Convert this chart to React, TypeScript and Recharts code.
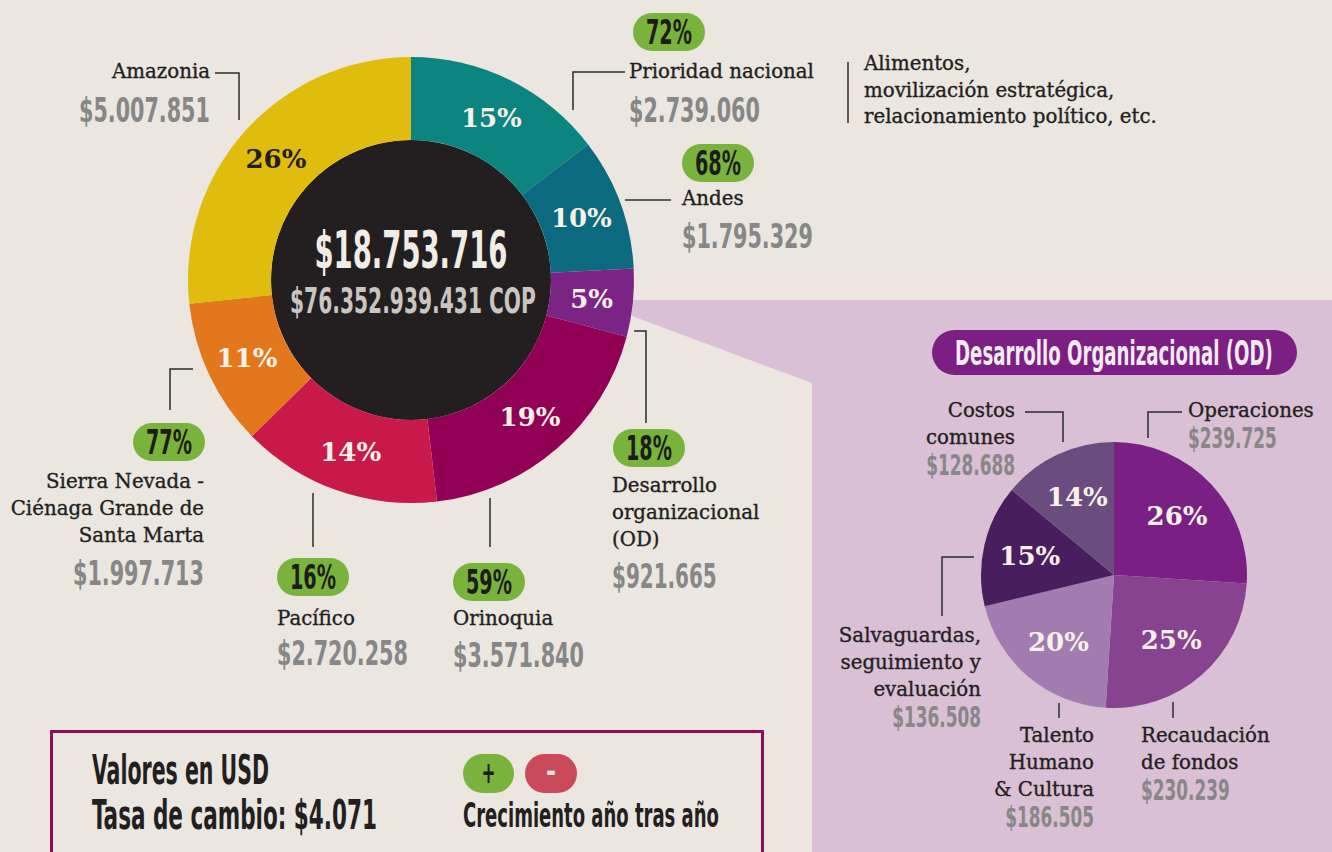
// App.tsx — budget donut by region + OD breakdown pie (Recharts)
import React from "react";
import { PieChart, Pie, Cell } from "recharts";

const regionNames = ["Prioridad nacional", "Andes", "Desarrollo organizacional (OD)", "Orinoquia", "Pacífico", "Sierra Nevada - Ciénaga Grande de Santa Marta", "Amazonia"];
const regionLines = [["Prioridad nacional"], ["Andes"], ["Desarrollo", "organizacional", "(OD)"], ["Orinoquia"], ["Pacífico"], ["Sierra Nevada -", "Ciénaga Grande de", "Santa Marta"], ["Amazonia"]];
const regionValues = [2739060, 1795329, 921665, 3571840, 2720258, 1997713, 5007851];
const regionShares = ["15%", "10%", "5%", "19%", "14%", "11%", "26%"];
const regionGrowth = ["72%", "68%", "18%", "59%", "16%", "77%", ""];

const odNames = ["Operaciones", "Recaudación de fondos", "Talento Humano & Cultura", "Salvaguardas, seguimiento y evaluación", "Costos comunes"];
const odLines = [["Operaciones"], ["Recaudación", "de fondos"], ["Talento", "Humano", "& Cultura"], ["Salvaguardas,", "seguimiento y", "evaluación"], ["Costos", "comunes"]];
const odValues = [239725, 230239, 186505, 136508, 128688];
const odShares = ["26%", "25%", "20%", "15%", "14%"];

const totalCop = "$76.352.939.431 COP";
const exchangeRate = "$4.071";
const nationalNote = ["Alimentos,", "movilización estratégica,", "relacionamiento político, etc."];

// styles
const BG = "#ebe6df";
const OD_BG = "#d9c0d5";
const regionColors = ["#0c8580", "#0b6a7f", "#7b2485", "#920056", "#c8194a", "#e2771b", "#e0bd0d"];
const odColors = ["#7a1f84", "#874290", "#a27cb0", "#4a1d5e", "#6a4c7e"];
const SERIF = "'DejaVu Serif', 'Liberation Serif', serif";
const COND = "'DejaVu Sans Condensed', 'Liberation Sans Narrow', 'DejaVu Sans', sans-serif";
const GREEN = "#7ab33b";
const GREY = "#878787";
const INK = "#231f20";
const RAD = Math.PI / 180;

// label placement around the charts
const regionLayout = [
    { anchor: "start", x: 629, y: 78, valueY: 122, pill: [633, 13], leader: "625,72 573,72 573,110" },
    { anchor: "start", x: 682, y: 205, valueY: 248, pill: [682, 144], leader: "625,200 671,200" },
    { anchor: "start", x: 612, y: 492, valueY: 588, pill: [613, 429], leader: "634,331 646,331 646,423" },
    { anchor: "start", x: 453, y: 625, valueY: 667, pill: [453, 563], leader: "490,498 490,547" },
    { anchor: "start", x: 277, y: 625, valueY: 665, pill: [277, 558], leader: "313,493 313,547" },
    { anchor: "end", x: 204, y: 488, valueY: 585, pill: [133, 423], leader: "193,369 170,369 170,410" },
    { anchor: "end", x: 210, y: 78, valueY: 122, pill: null, leader: "215,73 239,73 239,120" },
];
const odLayout = [
    { anchor: "start", x: 1188, y: 417, valueY: 448, leader: "1148,438 1148,412 1182,412" },
    { anchor: "start", x: 1141, y: 742, valueY: 800, leader: "1173,702 1173,718" },
    { anchor: "end", x: 1094, y: 742, valueY: 827, leader: "1059,703 1059,718" },
    { anchor: "end", x: 981, y: 642, valueY: 727, leader: "974,557 942,557 942,616" },
    { anchor: "end", x: 1015, y: 417, valueY: 475, leader: "1025,412 1063,412 1063,442" },
];

const fmt = (v: number) => "$" + String(v).replace(/\B(?=(\d{3})+(?!\d))/g, ".");
const total = regionValues.reduce((a, b) => a + b, 0);
const regionData = regionNames.map((name, i) => ({ name, value: regionValues[i] }));
const odData = odNames.map((name, i) => ({ name, value: odValues[i] }));
const totalData = [{ name: "Total", value: total }];

// condensed display face: squeeze a normal sans to the width seen in the print
let ctx: CanvasRenderingContext2D | null = null;
function measure(text: string, size: number) {
    if (!ctx) ctx = document.createElement("canvas").getContext("2d");
    if (!ctx) return text.length * size * 0.6;
    ctx.font = `bold ${size}px ${COND}`;
    return ctx.measureText(text).width || text.length * size * 0.6;
}

function Cond({ x, y, size, width, anchor = "start", fill = INK, children }: any) {
    const k = width / measure(children, size);
    const left = anchor === "middle" ? x - width / 2 : anchor === "end" ? x - width : x;
    return (
        <text transform={`translate(${left} ${y}) scale(${k} 1)`} x={0} y={0} fontFamily={COND}
            fontWeight="bold" fontSize={size} fill={fill}>
            {children}
        </text>
    );
}

function Pill({ x, y, label }: { x: number; y: number; label: string }) {
    return (
        <g>
            <rect x={x} y={y} width={72} height={38} rx={19} fill={GREEN} />
            <Cond x={x + 36} y={y + 31} size={33} width={46} anchor="middle" fill="#1c1c1a">{label}</Cond>
        </g>
    );
}

const sliceLabel = (shares: string[], darkIndex: number, factor: number) => (p: any) => {
    const r = p.innerRadius + (p.outerRadius - p.innerRadius) * factor;
    const x = p.cx + r * Math.cos(-p.midAngle * RAD);
    const y = p.cy + r * Math.sin(-p.midAngle * RAD);
    return (
        <text key={"l" + p.index} x={x} y={y} dy="0.36em" textAnchor="middle" fontFamily={SERIF}
            fontWeight="bold" fontSize={26} fill={p.index === darkIndex ? INK : "#f7f1e7"}>
            {shares[p.index]}
        </text>
    );
};

function SerifLine({ x, y, anchor, children }: any) {
    return (
        <text x={x} y={y} textAnchor={anchor} fontFamily={SERIF} fontSize={19.8} fill={INK}
            stroke={INK} strokeWidth={0.35}>{children}</text>
    );
}

function LabelBlock({ lay, lines, value, valSize, charW }: any) {
    return (
        <g>
            <polyline points={lay.leader} fill="none" stroke="#2b2b2b" strokeWidth={1.5} />
            {lines.map((t: string, j: number) => (
                <SerifLine key={j} x={lay.x} y={lay.y + j * 27} anchor={lay.anchor}>{t}</SerifLine>
            ))}
            <Cond x={lay.x} y={lay.valueY} size={valSize} width={fmt(value).length * charW}
                anchor={lay.anchor} fill={GREY}>{fmt(value)}</Cond>
        </g>
    );
}

export default function App() {
    return (
        <div style={{ width: 1332, height: 852, position: "relative", background: BG, overflow: "hidden" }}>
            <style>{"body{margin:0}"}</style>
            <svg width={1332} height={852} style={{ position: "absolute", left: 0, top: 0 }}>
                <polygon points="628,300 1332,300 1332,852 812,852 812,383 632,316" fill={OD_BG} />
            </svg>
            <div style={{ position: "absolute", left: 0, top: 0 }}>
                <PieChart width={1332} height={852} margin={{ top: 0, right: 0, bottom: 0, left: 0 }}>
                    <Pie data={totalData} dataKey="value" cx={411} cy={280} outerRadius={140}
                        startAngle={90} endAngle={-270} stroke="none" fill={INK} isAnimationActive={false} />
                    <Pie data={regionData} dataKey="value" cx={411} cy={280} innerRadius={140} outerRadius={223}
                        startAngle={90} endAngle={-270} stroke="none" isAnimationActive={false}
                        label={sliceLabel(regionShares, 6, 0.5)} labelLine={false}>
                        {regionData.map((d, i) => <Cell key={d.name} fill={regionColors[i]} />)}
                    </Pie>
                    <Pie data={odData} dataKey="value" cx={1114} cy={575} outerRadius={133}
                        startAngle={90} endAngle={-270} stroke="none" isAnimationActive={false}
                        label={sliceLabel(odShares, -1, 0.65)} labelLine={false}>
                        {odData.map((d, i) => <Cell key={d.name} fill={odColors[i]} />)}
                    </Pie>
                </PieChart>
            </div>
            <svg width={1332} height={852} style={{ position: "absolute", left: 0, top: 0, pointerEvents: "none" }}>
                {/* centre totals */}
                <Cond x={411} y={268} size={52} width={193} anchor="middle" fill="#f1ede6">{fmt(total)}</Cond>
                <Cond x={413} y={313} size={36} width={246} anchor="middle" fill="#c9c5c1">{totalCop}</Cond>

                {regionLayout.map((lay, i) => (
                    <g key={regionNames[i]}>
                        <LabelBlock lay={lay} lines={regionLines[i]} value={regionValues[i]} valSize={34} charW={13.1} />
                        {lay.pill && regionGrowth[i] && <Pill x={lay.pill[0]} y={lay.pill[1]} label={regionGrowth[i]} />}
                    </g>
                ))}

                <line x1={848} y1={62} x2={848} y2={123} stroke="#2b2b2b" strokeWidth={1.5} />
                {nationalNote.map((t, j) => (
                    <SerifLine key={t} x={864} y={70 + j * 26.5} anchor="start">{t}</SerifLine>
                ))}

                {/* OD panel */}
                <rect x={932} y={330} width={365} height={45} rx={22.5} fill="#7b1f83" />
                <Cond x={1114} y={365} size={34} width={318} anchor="middle" fill="#f4ebf2">Desarrollo Organizacional (OD)</Cond>
                {odLayout.map((lay, i) => (
                    <LabelBlock key={odNames[i]} lay={lay} lines={odLines[i]} value={odValues[i]} valSize={28} charW={11.1} />
                ))}

                {/* legend box */}
                <rect x={51.5} y={731.5} width={711} height={200} fill="none" stroke="#8c0f5f" strokeWidth={3} />
                <Cond x={92} y={784} size={40} width={177}>Valores en USD</Cond>
                <Cond x={92} y={829} size={40} width={285}>{"Tasa de cambio: " + exchangeRate}</Cond>
                <rect x={463} y={754} width={51} height={39} rx={19.5} fill={GREEN} />
                <Cond x={488.5} y={783} size={30} width={14} anchor="middle" fill="#1c1c1a">+</Cond>
                <rect x={525} y={754} width={52} height={39} rx={19.5} fill="#c94a5a" />
                <Cond x={551} y={782} size={30} width={10} anchor="middle" fill="#f3e6e6">-</Cond>
                <Cond x={463} y={827} size={33} width={256}>Crecimiento año tras año</Cond>
            </svg>
        </div>
    );
}
